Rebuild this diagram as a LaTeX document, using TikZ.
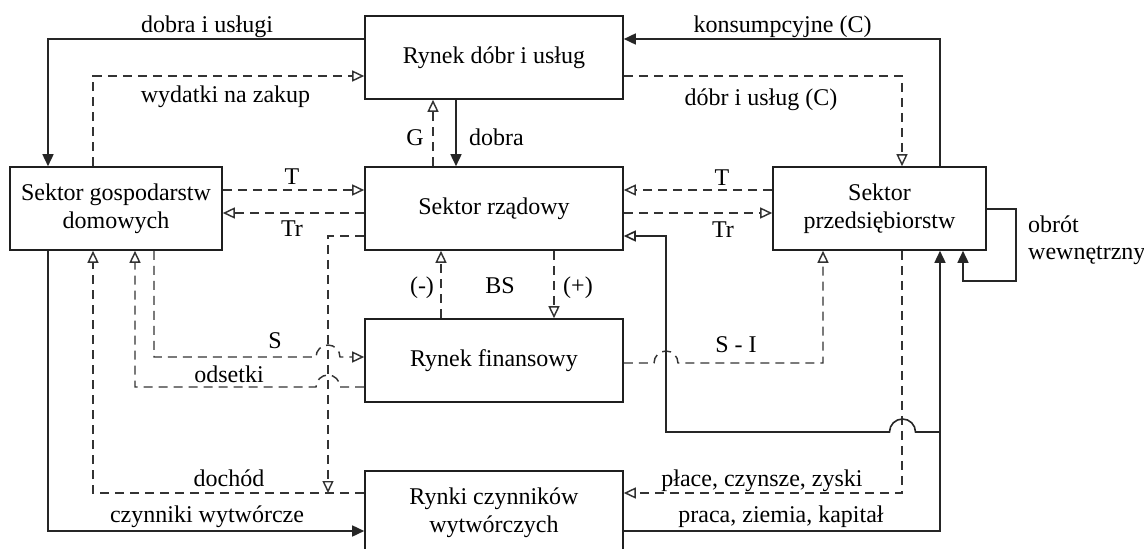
\documentclass[tikz,border=0pt]{standalone}
\usepackage{fontspec}
\setmainfont{Liberation Serif}
\usetikzlibrary{arrows.meta}

\begin{document}
\begin{tikzpicture}[x=1pt,y=-1pt,
  txt/.style={font=\fontsize{24}{28}\selectfont},
  box/.style={txt, draw=black!88, line width=1.6pt, minimum height=83pt,
    align=center, inner sep=0pt},
  flow/.style={draw=black!85, line width=1.6pt,
    -{Triangle[length=12pt,width=11pt]}},
  oflow/.style={draw=black!85, line width=1.6pt,
    -{Triangle[open,length=12pt,width=11pt]}},
  dflow/.style={draw=black!80, line width=1.45pt, dash pattern=on 9pt off 6pt,
    -{Triangle[open,length=12pt,width=11pt]}},
  lbl/.style={txt, inner sep=0pt, anchor=base},
]
\useasboundingbox (0,0) rectangle (1144,549);
\clip (0,0) rectangle (1144,549);

% sectors and markets
\node[box, minimum width=258pt] (rd) at (494,57.5) {Rynek dóbr i usług};
\node[box, minimum width=212pt] (sg) at (116,208.5) {Sektor gospodarstw\\domowych};
\node[box, minimum width=258pt] (sr) at (494,208.5) {Sektor rządowy};
\node[box, minimum width=213pt] (sp) at (879.5,208.5) {Sektor\\przedsiębiorstw};
\node[box, minimum width=258pt] (rf) at (494,360.5) {Rynek finansowy};
\node[box, minimum width=258pt] (rc) at (494,512.5) {Rynki czynników\\wytwórczych};

% junction points
\coordinate (dj) at (328,493);
\coordinate (pj) at (940,432);

% goods market
\draw[flow] (rd.west |- 0,39) -| (sg.north -| 48,0);
\draw[dflow] (sg.north -| 93,0) |- (rd.west |- 0,76);
\draw[flow] (sp.north -| 940,0) |- (rd.east |- 0,39);
\draw[dflow] (rd.east |- 0,76) -| (sp.north -| 902,0);
\draw[dflow] (sr.north -| 433,0) -- (rd.south -| 433,0);
\draw[flow] (rd.south -| 456,0) -- (sr.north -| 456,0);

% taxes and transfers
\draw[dflow] (sg.east |- 0,190) -- (sr.west |- 0,190);
\draw[dflow] (sr.west |- 0,213) -- (sg.east |- 0,213);
\draw[dflow] (sp.west |- 0,190) -- (sr.east |- 0,190);
\draw[dflow] (sr.east |- 0,213) -- (sp.west |- 0,213);

% government to income
\draw[dflow] (sr.west |- 0,236) -| (dj);

% savings and interest
\draw[dflow] (sg.south -| 154,0) |- (316,357)
  arc[start angle=180,end angle=0,radius=12pt] -- (rf.west |- 0,357);
\draw[dflow] (rf.west |- 0,387) -- (340,387)
  arc[start angle=0,end angle=180,radius=12pt] -| (sg.south -| 135,0);

% budget balance
\draw[dflow] (rf.north -| 441,0) -- (sr.south -| 441,0);
\draw[dflow] (sr.south -| 554,0) -- (rf.north -| 554,0);

% investment
\draw[dflow] (rf.east |- 0,363) -- (654,363)
  arc[start angle=180,end angle=0,radius=12pt] -| (sp.south -| 823,0);

% factor market
\draw[dflow] (rc.west |- 0,493) -| (sg.south -| 93,0);
\draw[flow] (sg.south -| 48,0) |- (rc.west |- 0,531);
\draw[dflow] (sp.south -| 902,0) |- (rc.east |- 0,493);
\draw[flow] (rc.east |- 0,531) -| (sp.south -| 940,0);
\draw[oflow] (pj) -- (915.5,432)
  arc[start angle=0,end angle=180,radius=13pt] -- (666,432) |- (sr.east |- 0,236);

% internal turnover
\draw[flow] (sp.east |- 0,209) -| (1016,281) -| (sp.south -| 963,0);

% labels
\node[lbl] (l1) at (207,32) {dobra i usługi};
\node[lbl] (l2) at (225.5,102) {wydatki na zakup};
\node[lbl] (l3) at (782.5,32) {konsumpcyjne (C)};
\node[lbl] (l4) at (761,105) {dóbr i usług (C)};
\node[lbl] (l5) at (415,145) {G};
\node[lbl] (l6) at (496.5,145) {dobra};
\node[lbl] (l7) at (292,184) {T};
\node[lbl] (l8) at (292,236) {Tr};
\node[lbl] (l9) at (722,185) {T};
\node[lbl] (l10) at (723,237) {Tr};
\node[lbl] (l11) at (422,293) {(-)};
\node[lbl] (l12) at (500,293) {BS};
\node[lbl] (l13) at (578,293) {(+)};
\node[lbl] (l14) at (275,348) {S};
\node[lbl] (l15) at (229,382) {odsetki};
\node[lbl] (l16) at (736,352) {S - I};
\node[lbl] (l17) at (229,486) {dochód};
\node[lbl] (l18) at (207,522) {czynniki wytwórcze};
\node[lbl] (l19) at (762,486) {płace, czynsze, zyski};
\node[lbl] (l20) at (781,522) {praca, ziemia, kapitał};
\node[lbl, anchor=base west] (l21) at (1028,232) {obrót};
\node[lbl, anchor=base west] (l22) at (1028,259) {wewnętrzny};
\end{tikzpicture}
\end{document}
